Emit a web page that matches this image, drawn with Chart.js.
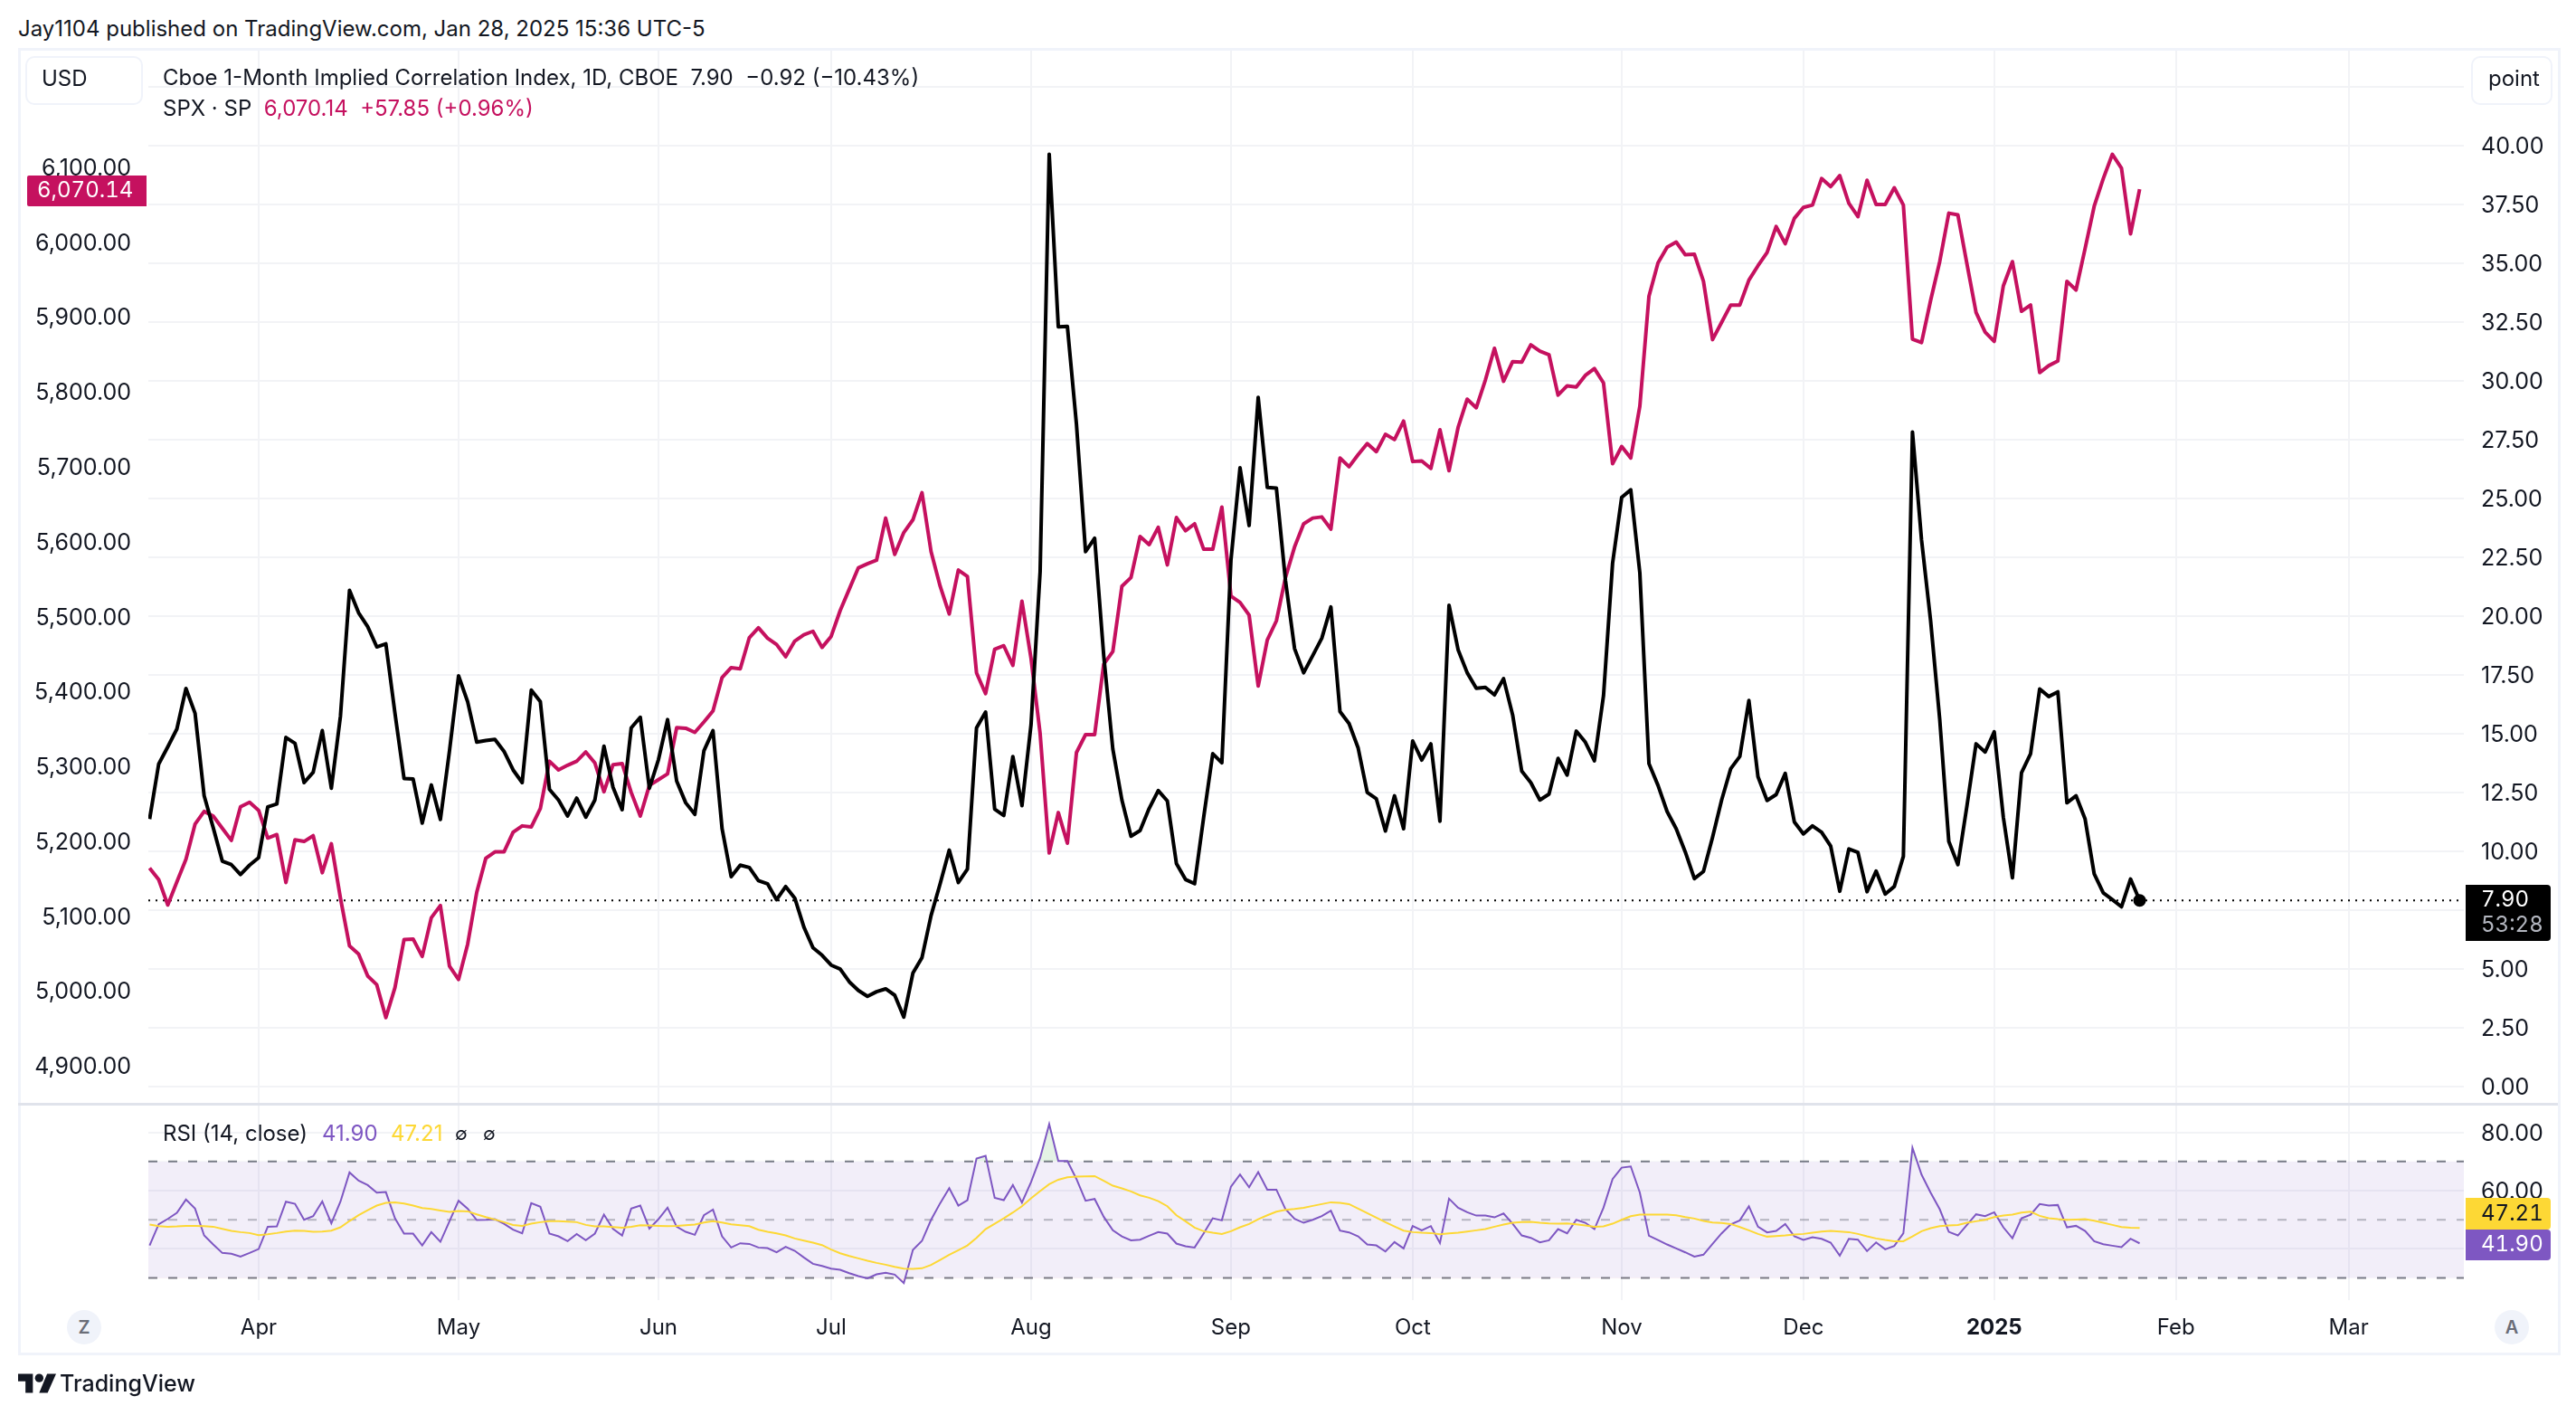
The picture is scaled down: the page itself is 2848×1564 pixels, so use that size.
<!DOCTYPE html>
<html>
<head>
<meta charset="utf-8">
<title>Cboe 1-Month Implied Correlation Index vs SPX</title>
<script src="https://cdn.jsdelivr.net/npm/chart.js@4"></script>
<style>
    html, body { margin: 0; padding: 0; background: #fff; width: 2848px; height: 1564px; overflow: hidden; }
    body { font-family: Inter, "Noto Sans", sans-serif; color: #131722; position: relative; }
    canvas { position: absolute; display: block; }
    .txt { position: absolute; font-size: 24px; line-height: 30px; white-space: pre; }
    .num { font-size: 24px; font-variant-numeric: tabular-nums; }
    .frame { position: absolute; left: 20px; top: 53px; width: 2805px; height: 1439px; border: 3px solid #f0f3fa; }
    .sep { position: absolute; left: 20px; top: 1219px; width: 2808px; height: 3px; background: #e0e3eb; }
    .btn { position: absolute; top: 62px; height: 50px; background: #fff; border: 2px solid #f0f3fa; border-radius: 10px; }
    .badge { position: absolute; left: 2726px; width: 94px; border-radius: 0 4px 4px 0; }
    .round { position: absolute; top: 1448px; width: 38px; height: 38px; border-radius: 19px; background: #f0f3fa; color: #6a6d78; font-size: 20px; font-weight: 600; line-height: 38px; text-align: center; }
</style>
</head>
<body>
<canvas id="mainChart" width="2804" height="1167" style="left:23px;top:54px"></canvas>
<canvas id="rsiChart" width="2804" height="272" style="left:23px;top:1222px"></canvas>
<div class="frame"></div>
<div class="sep"></div>

<div class="txt" style="left:20px;top:17px">Jay1104 published on TradingView.com, Jan 28, 2025 15:36 UTC-5</div>
<div class="btn" style="left:28px;width:126px"></div>
<div class="txt" style="left:46px;top:72px">USD</div>
<div class="btn" style="left:2732px;width:86px"></div>
<div class="txt" style="left:2751px;top:72px">point</div>
<div class="txt" style="left:180px;top:71px">Cboe 1-Month Implied Correlation Index, 1D, CBOE  7.90  −0.92 (−10.43%)</div>
<div class="txt" style="left:180px;top:105px">SPX · SP  <span style="color:#c5115f">6,070.14  +57.85 (+0.96%)</span></div>

<div class="badge" style="left:30px;top:194px;width:132px;height:34px;background:#c5115f;border-radius:2px 0 0 2px"></div>
<div class="txt num" style="left:41px;top:195px;color:#fff">6,070.14</div>

<div class="badge" style="top:978px;height:62px;background:#000"></div>
<div class="txt num" style="left:2743px;top:979px;color:#fff">7.90</div>
<div class="txt num" style="left:2743px;top:1007px;color:#b2b5be">53:28</div>

<div class="badge" style="top:1324px;height:35px;background:#fdd835"></div>
<div class="txt num" style="left:2743px;top:1326px;color:#131722">47.21</div>
<div class="badge" style="top:1359px;height:34px;background:#7e57c2"></div>
<div class="txt num" style="left:2743px;top:1360px;color:#fff">41.90</div>

<div class="txt" style="left:180px;top:1238px">RSI (14, close)</div>
<div class="txt" style="left:356px;top:1238px;color:#7e57c2">41.90</div>
<div class="txt" style="left:432px;top:1238px;color:#fdd835">47.21</div>
<div class="txt" style="left:503px;top:1238px;font-size:20px">∅</div>
<div class="txt" style="left:534px;top:1238px;font-size:20px">∅</div>

<div class="round" style="left:74px">Z</div>
<div class="round" style="left:2758px">A</div>

<svg style="position:absolute;left:20px;top:1518px" width="42" height="22" viewBox="0 0 36 18">
    <path fill="#131722" d="M14 18H7V7H0V0h14v18zM28 18h-8L27.500 0H36l-8 18z"/><circle cx="20" cy="4" r="4" fill="#131722"/>
</svg>
<div class="txt" style="left:66px;top:1514px;font-size:25px;font-weight:500">TradingView</div>

<script>
// --- DATA (one value per trading day) ---
const monthTicks = [12, 34, 56, 75, 97, 119, 139, 162, 182, 203, 223, 242];
const monthLabels = ['Apr', 'May', 'Jun', 'Jul', 'Aug', 'Sep', 'Oct', 'Nov', 'Dec', '2025', 'Feb', 'Mar'];

const spxTicks = [6100, 6000, 5900, 5800, 5700, 5600, 5500, 5400, 5300, 5200, 5100, 5000, 4900];
const indexTicks = [42.5, 40, 37.5, 35, 32.5, 30, 27.5, 25, 22.5, 20, 17.5, 15, 12.5, 10, 7.5, 5, 2.5, 0];
const rsiTicks = [80, 60, 40];
const rsiLevels = [70, 50, 30];

const corrIndex = [
    11.36, 13.70, 14.43, 15.19, 16.91, 15.86, 12.35, 10.99, 9.57, 9.42,
    9.00, 9.40, 9.72, 11.88, 12.00, 14.83, 14.58, 12.91, 13.35, 15.12,
    12.67, 15.73, 21.09, 20.13, 19.54, 18.68, 18.81, 15.86, 13.08, 13.06,
    11.19, 12.81, 11.34, 14.26, 17.45, 16.35, 14.63, 14.70, 14.75, 14.24,
    13.45, 12.91, 16.84, 16.35, 12.62, 12.17, 11.49, 12.25, 11.44, 12.17,
    14.46, 12.71, 11.76, 15.24, 15.69, 12.67, 13.89, 15.59, 12.98, 12.05,
    11.56, 14.26, 15.12, 10.95, 8.91, 9.40, 9.30, 8.74, 8.61, 7.93,
    8.49, 8.00, 6.77, 5.89, 5.57, 5.15, 4.98, 4.44, 4.07, 3.82,
    4.02, 4.14, 3.87, 2.94, 4.81, 5.47, 7.26, 8.61, 10.04, 8.66,
    9.23, 15.24, 15.91, 11.78, 11.51, 14.02, 11.93, 15.37, 21.87, 39.63,
    32.29, 32.31, 28.14, 22.73, 23.30, 18.31, 14.34, 12.17, 10.63, 10.87,
    11.81, 12.57, 12.13, 9.47, 8.79, 8.61, 11.44, 14.14, 13.75, 22.37,
    26.30, 23.84, 29.29, 25.46, 25.43, 21.51, 18.61, 17.58, 18.31, 19.05,
    20.38, 15.93, 15.42, 14.38, 12.49, 12.22, 10.85, 12.35, 10.95, 14.68,
    13.87, 14.56, 11.27, 20.45, 18.56, 17.58, 16.92, 16.96, 16.64, 17.33,
    15.79, 13.40, 12.91, 12.17, 12.42, 13.94, 13.23, 15.10, 14.63, 13.84,
    16.60, 22.24, 25.04, 25.36, 21.82, 13.72, 12.79, 11.68, 10.95, 9.96,
    8.83, 9.13, 10.58, 12.17, 13.50, 14.02, 16.40, 13.16, 12.15, 12.40,
    13.30, 11.24, 10.73, 11.07, 10.80, 10.21, 8.29, 10.09, 9.94, 8.27,
    9.15, 8.17, 8.49, 9.77, 27.82, 23.23, 19.79, 15.61, 10.41, 9.42,
    11.93, 14.56, 14.21, 15.07, 11.44, 8.86, 13.33, 14.14, 16.89, 16.57,
    16.77, 12.05, 12.35, 11.36, 9.03, 8.22, 7.93, 7.63, 8.81, 7.90
];

const spx = [
    5163.6, 5148.2, 5114.3, 5145.1, 5175.2, 5222.2, 5239.2, 5233.0, 5216.8, 5200.6,
    5245.4, 5251.5, 5240.7, 5203.7, 5208.3, 5144.3, 5201.4, 5199.1, 5206.8, 5157.4,
    5196.0, 5123.5, 5059.5, 5048.7, 5019.4, 5007.8, 4963.9, 5004.0, 5068.0, 5068.8,
    5045.6, 5097.3, 5113.5, 5032.5, 5014.8, 5061.8, 5131.2, 5176.7, 5185.2, 5185.2,
    5211.4, 5219.9, 5218.4, 5243.1, 5306.3, 5294.7, 5300.9, 5306.3, 5318.6, 5304.0,
    5265.4, 5301.7, 5303.2, 5264.6, 5233.0, 5273.9, 5281.6, 5289.3, 5351.0, 5350.3,
    5344.8, 5358.7, 5373.4, 5418.1, 5431.2, 5429.7, 5471.3, 5484.5, 5470.6, 5462.1,
    5445.9, 5466.7, 5475.2, 5479.8, 5458.2, 5472.9, 5507.6, 5536.1, 5564.6, 5570.0,
    5574.7, 5631.0, 5582.4, 5611.7, 5628.7, 5664.9, 5586.2, 5540.0, 5502.9, 5561.6,
    5553.1, 5424.3, 5396.5, 5455.9, 5460.5, 5434.3, 5519.9, 5443.6, 5343.3, 5183.7,
    5237.7, 5196.8, 5317.9, 5341.8, 5341.8, 5435.9, 5452.8, 5540.0, 5551.5, 5606.3,
    5595.5, 5618.6, 5568.5, 5631.7, 5614.0, 5623.3, 5589.3, 5589.3, 5645.6, 5526.9,
    5518.4, 5501.4, 5406.6, 5468.2, 5493.7, 5551.5, 5592.4, 5623.3, 5631.0, 5632.5,
    5616.3, 5711.2, 5699.6, 5715.8, 5730.5, 5719.7, 5742.8, 5735.8, 5760.5, 5706.5,
    5707.3, 5697.3, 5749.0, 5694.2, 5752.0, 5789.8, 5778.3, 5815.3, 5857.7, 5813.7,
    5840.0, 5839.2, 5862.3, 5853.8, 5849.2, 5795.2, 5807.6, 5806.0, 5821.5, 5830.7,
    5811.4, 5703.5, 5726.6, 5711.2, 5780.6, 5927.1, 5971.8, 5992.7, 5999.6, 5982.6,
    5983.4, 5947.2, 5869.3, 5892.4, 5915.5, 5915.5, 5948.7, 5968.0, 5985.7, 6020.4,
    5997.3, 6031.2, 6045.9, 6049.0, 6084.4, 6073.6, 6088.3, 6051.3, 6033.5, 6082.1,
    6049.7, 6049.7, 6072.1, 6049.0, 5870.0, 5865.4, 5921.7, 5973.4, 6038.2, 6035.8,
    5970.3, 5905.5, 5879.3, 5867.0, 5941.0, 5973.4, 5907.1, 5915.5, 5825.3, 5834.6,
    5840.7, 5947.2, 5935.6, 5991.1, 6047.4, 6084.4, 6116.8, 6098.3, 6010.4, 6070.14
];

const rsi = [
    41.18, 48.43, 50.29, 52.36, 56.92, 53.81, 44.60, 41.50, 38.60, 38.29,
    37.35, 38.60, 39.94, 47.60, 47.71, 56.19, 55.47, 49.98, 51.23, 56.30,
    48.74, 56.19, 66.24, 63.44, 61.89, 59.30, 59.51, 50.50, 45.22, 45.22,
    41.18, 45.74, 42.43, 49.47, 56.51, 53.81, 49.88, 49.98, 50.19, 48.64,
    46.57, 45.33, 55.68, 54.44, 45.22, 44.29, 42.63, 45.12, 42.94, 45.22,
    51.74, 46.88, 44.60, 53.81, 54.85, 46.98, 50.19, 54.12, 47.60, 45.84,
    44.81, 51.54, 53.50, 44.29, 40.46, 41.91, 41.70, 40.46, 40.25, 38.80,
    40.67, 39.32, 37.04, 34.87, 34.15, 33.21, 32.80, 31.66, 30.63, 29.90,
    31.25, 31.76, 31.14, 28.24, 39.63, 42.74, 49.98, 55.68, 60.85, 54.85,
    56.71, 71.00, 71.93, 57.54, 56.71, 61.89, 55.88, 62.92, 71.21, 82.80,
    70.17, 70.17, 63.96, 56.51, 57.13, 51.02, 46.36, 44.29, 42.94, 43.15,
    44.50, 45.74, 45.22, 41.81, 40.87, 40.46, 45.33, 50.50, 49.78, 61.37,
    65.51, 61.16, 66.34, 60.34, 60.34, 53.61, 50.29, 48.95, 49.98, 51.23,
    53.09, 46.26, 45.64, 44.29, 41.50, 41.18, 39.11, 42.32, 40.15, 47.81,
    46.36, 47.81, 42.01, 57.23, 54.12, 52.57, 51.43, 51.43, 50.81, 52.16,
    48.64, 44.60, 43.77, 42.22, 42.94, 46.77, 45.33, 49.98, 48.95, 46.77,
    54.12, 63.96, 67.89, 68.31, 59.30, 44.50, 43.05, 41.50, 40.15, 38.80,
    37.35, 37.98, 41.70, 45.33, 48.43, 49.78, 54.64, 47.60, 45.64, 46.15,
    48.53, 44.29, 43.05, 43.98, 43.46, 42.12, 37.66, 43.46, 43.15, 39.22,
    42.22, 39.84, 40.98, 45.33, 74.72, 65.51, 59.30, 53.61, 45.84, 44.60,
    48.22, 51.85, 51.23, 52.57, 47.40, 43.67, 50.50, 51.74, 55.37, 54.85,
    55.06, 47.40, 47.91, 46.15, 42.63, 41.60, 41.08, 40.56, 43.46, 41.90
];

const rsiMa = [
    48.33, 47.81, 47.60, 47.71, 47.91, 47.91, 47.81, 47.60, 46.88, 46.15,
    45.74, 45.43, 44.70, 45.01, 45.43, 45.95, 46.26, 46.15, 45.84, 45.95,
    46.26, 47.40, 49.57, 51.54, 53.30, 54.85, 55.78, 55.99, 55.57, 54.85,
    54.02, 53.71, 53.19, 52.68, 52.99, 52.88, 51.85, 50.92, 50.09, 49.16,
    48.22, 47.91, 48.64, 49.16, 49.47, 49.47, 49.36, 49.16, 48.22, 47.71,
    47.71, 47.50, 47.29, 47.60, 48.12, 48.02, 47.91, 47.81, 47.91, 48.12,
    48.33, 49.05, 49.47, 49.05, 48.43, 48.12, 47.81, 46.57, 45.84, 45.33,
    44.60, 43.57, 42.84, 42.12, 41.29, 39.74, 38.49, 37.56, 36.73, 35.91,
    35.18, 34.56, 33.84, 33.21, 33.11, 33.32, 34.46, 36.22, 37.98, 39.53,
    41.18, 43.77, 46.77, 48.64, 50.50, 52.47, 54.64, 57.33, 59.82, 62.20,
    63.75, 64.58, 64.79, 64.89, 64.99, 63.34, 61.68, 60.75, 59.71, 58.37,
    57.54, 56.40, 54.64, 51.54, 49.47, 47.29, 46.05, 45.53, 45.12, 46.05,
    47.40, 48.53, 50.19, 51.54, 52.78, 53.40, 53.71, 54.12, 54.75, 55.37,
    55.99, 55.78, 55.37, 53.81, 52.26, 50.71, 49.16, 47.71, 46.26, 45.74,
    45.53, 45.43, 45.01, 45.33, 45.53, 45.95, 46.36, 46.77, 47.60, 48.33,
    48.95, 49.16, 49.26, 48.95, 48.74, 48.64, 48.74, 48.43, 48.02, 47.60,
    47.71, 48.64, 49.98, 51.23, 51.74, 51.74, 51.74, 51.74, 51.54, 50.92,
    50.40, 49.57, 49.05, 48.85, 48.53, 47.50, 46.36, 45.12, 44.19, 44.39,
    44.60, 44.91, 45.12, 45.53, 45.95, 46.15, 45.95, 45.74, 45.12, 44.29,
    43.57, 43.05, 42.63, 42.63, 44.29, 46.05, 47.09, 47.81, 48.02, 48.22,
    48.95, 49.47, 49.98, 50.92, 51.43, 51.74, 52.47, 52.78, 51.33, 50.50,
    50.19, 49.98, 50.09, 50.19, 49.67, 48.95, 48.22, 47.50, 47.29, 47.21
];

const BLACK = '#000000';
const MAGENTA = '#c5115f';
const PURPLE = '#7e57c2';
const YELLOW = '#fdd835';
const GRID = '#f2f3f6';
const TEXT = '#131722';
const FONT = 'Inter, "Noto Sans", sans-serif';
const X_MIN = -0.14;
const X_MAX = 254.68;

const toPoints = arr => arr.map((v, i) => ({ x: i, y: v }));
const setTicks = list => (scale) => { scale.ticks = list.map(v => ({ value: v })); };

// Chart.js reserves room for the outer tick labels; the pane edges have to stay put
function noPadding(scale) {
    scale.paddingTop = 0;
    scale.paddingBottom = 0;
    scale.paddingLeft = 0;
    scale.paddingRight = 0;
}

function xAxis(showLabels) {
    return {
        type: 'linear',
        min: X_MIN,
        max: X_MAX,
        afterBuildTicks: setTicks(monthTicks),
        afterFit: (scale) => { scale.height = showLabels ? 57 : 0; noPadding(scale); },
        grid: { color: GRID, lineWidth: 2, drawTicks: false },
        border: { display: false },
        ticks: {
            display: showLabels,
            autoSkip: false,
            maxRotation: 0,
            padding: 16,
            color: TEXT,
            font: ctx => ({ family: FONT, size: 24, weight: monthLabels[ctx.index] === '2025' ? '700' : '400' }),
            callback: (v, i) => monthLabels[i]
        }
    };
}

function yAxis(position, min, max, list, width, fmt, showGrid) {
    return {
        type: 'linear',
        position: position,
        min: min,
        max: max,
        afterBuildTicks: setTicks(list),
        afterFit: (scale) => { scale.width = width; noPadding(scale); },
        grid: { display: showGrid, color: GRID, lineWidth: 2, drawTicks: false },
        border: { display: false },
        ticks: { autoSkip: false, padding: 19, labelOffset: 2, color: TEXT, font: { family: FONT, size: 25 }, callback: fmt }
    };
}

// --- MAIN PANE ---
new Chart(document.getElementById('mainChart'), {
    type: 'line',
    data: {
        datasets: [
            {
                label: 'Last',
                data: [{ x: X_MIN, y: corrIndex[corrIndex.length - 1] }, { x: X_MAX, y: corrIndex[corrIndex.length - 1] }],
                yAxisID: 'y1',
                borderColor: BLACK,
                borderWidth: 2,
                borderDash: [2, 6],
                pointRadius: 0,
                order: 3
            },
            {
                label: 'SPX',
                data: toPoints(spx),
                yAxisID: 'y',
                borderColor: MAGENTA,
                borderWidth: 4,
                pointRadius: 0,
                borderJoinStyle: 'round',
                order: 2
            },
            {
                label: 'Cboe 1-Month Implied Correlation Index',
                data: toPoints(corrIndex),
                yAxisID: 'y1',
                borderColor: BLACK,
                backgroundColor: BLACK,
                borderWidth: 4,
                pointRadius: corrIndex.map((v, i) => (i === corrIndex.length - 1 ? 5 : 0)),
                borderJoinStyle: 'round',
                order: 1
            }
        ]
    },
    options: {
        responsive: false,
        animation: false,
        parsing: { xAxisKey: 'x', yAxisKey: 'y' },
        layout: { padding: 0, autoPadding: false },
        plugins: { legend: { display: false }, tooltip: { enabled: false } },
        scales: {
            x: xAxis(false),
            y: yAxis('left', 4847.6, 6257.6, spxTicks, 141, v => v.toLocaleString('en-US', { minimumFractionDigits: 2 }), false),
            y1: yAxis('right', -0.785, 44.11, indexTicks, 103, v => v.toFixed(2), true)
        }
    }
});

// RSI band and its dashed levels, drawn through the y scale
const bandPlugin = {
    id: 'rsiBand',
    beforeDatasetsDraw(chart) {
        const { ctx, chartArea, scales } = chart;
        const top = scales.y.getPixelForValue(rsiLevels[0]);
        const bottom = scales.y.getPixelForValue(rsiLevels[2]);
        ctx.save();
        ctx.fillStyle = 'rgba(126,87,194,0.1)';
        ctx.fillRect(chartArea.left, top, chartArea.right - chartArea.left, bottom - top);
        ctx.lineWidth = 2;
        ctx.setLineDash([10, 12]);
        rsiLevels.forEach((lvl) => {
            ctx.strokeStyle = lvl === 50 ? 'rgba(120,123,134,0.5)' : '#787b86';
            const y = scales.y.getPixelForValue(lvl);
            ctx.beginPath();
            ctx.moveTo(chartArea.left, y);
            ctx.lineTo(chartArea.right, y);
            ctx.stroke();
        });
        ctx.restore();
    }
};

// --- RSI PANE ---
new Chart(document.getElementById('rsiChart'), {
    type: 'line',
    data: {
        datasets: [
            {
                label: 'RSI MA',
                data: toPoints(rsiMa),
                borderColor: YELLOW,
                borderWidth: 2,
                pointRadius: 0,
                order: 1
            },
            {
                label: 'RSI',
                data: toPoints(rsi),
                borderColor: PURPLE,
                borderWidth: 2,
                pointRadius: 0,
                fill: { target: { value: rsiLevels[0] }, above: 'rgba(76,175,80,0.15)', below: 'rgba(0,0,0,0)' },
                order: 2
            },
            {
                label: 'RSI low',
                data: toPoints(rsi),
                borderWidth: 0,
                pointRadius: 0,
                fill: { target: { value: rsiLevels[2] }, above: 'rgba(0,0,0,0)', below: 'rgba(255,82,82,0.15)' },
                order: 3
            }
        ]
    },
    options: {
        responsive: false,
        animation: false,
        layout: { padding: { left: 141 }, autoPadding: false },
        plugins: { legend: { display: false }, tooltip: { enabled: false } },
        scales: {
            x: xAxis(true),
            y: yAxis('right', 22.4, 89.2, rsiTicks, 103, v => v.toFixed(2), true)
        }
    },
    plugins: [bandPlugin]
});
</script>
</body>
</html>
